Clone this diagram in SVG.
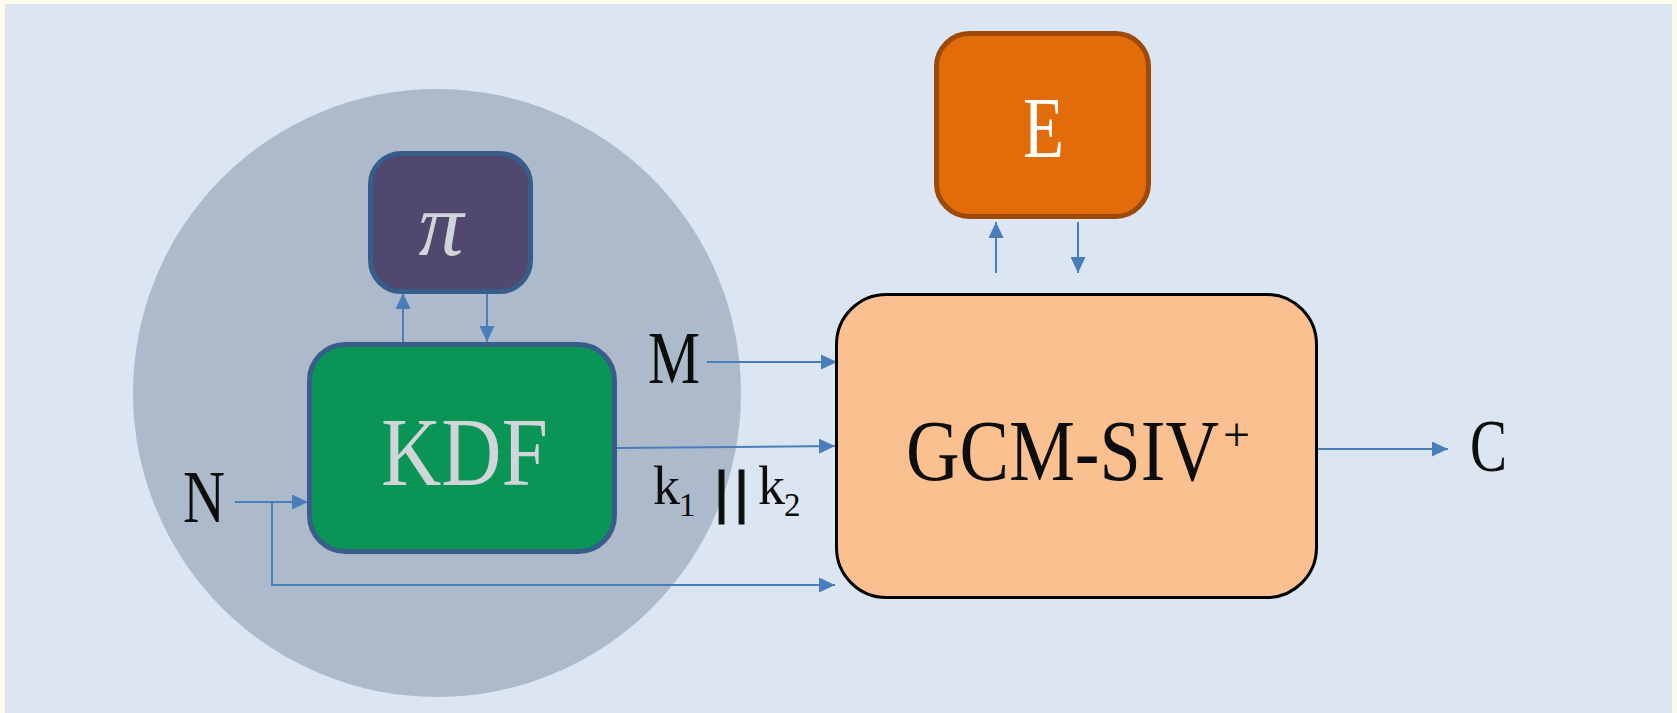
<svg xmlns="http://www.w3.org/2000/svg" width="1677" height="713" viewBox="0 0 1677 713">
  <style>
    .conn { stroke: #4a7ebb; stroke-width: 2; fill: none; marker-end: url(#arrow); }
    .lbl { font-family: "Liberation Serif", "Times New Roman", serif; fill: #0d0d0d; }
    .lt { font-family: "Liberation Serif", "Times New Roman", serif; fill: #d0d5da; }
    .bar { font-family: "Liberation Sans", Arial, sans-serif; font-size: 58px; fill: #0d0d0d; stroke: #0d0d0d; stroke-width: 1.2; }
  </style>
  <defs>
    <marker id="arrow" markerUnits="userSpaceOnUse" markerWidth="16" markerHeight="15" refX="16" refY="7.5" orient="auto">
      <path d="M0,0 L16,7.5 L0,15 z" fill="#4a7ebb"/>
    </marker>
  </defs>
  <rect x="0" y="0" width="1677" height="713" fill="#fdfbea"/>
  <rect x="5" y="4" width="1667" height="709" fill="#dce6f2"/>
  <circle id="scope" cx="437" cy="393" r="304" fill="#adbacb"/>

  <g id="connectors">
    <line class="conn" x1="403" y1="342" x2="403" y2="293"/>
    <line class="conn" x1="487" y1="294" x2="487" y2="342"/>
    <line class="conn" x1="996" y1="273" x2="996" y2="222"/>
    <line class="conn" x1="1078" y1="222" x2="1078" y2="273"/>
    <line class="conn" x1="707" y1="362" x2="837" y2="362"/>
    <line class="conn" x1="617" y1="448" x2="835" y2="446"/>
    <line class="conn" x1="235" y1="502" x2="308" y2="502"/>
    <polyline class="conn" points="272,502 272,585 835,585"/>
    <line class="conn" x1="1318" y1="449" x2="1448" y2="449"/>
  </g>

  <g id="pi">
    <rect x="370.5" y="153.5" width="160" height="138" rx="31" fill="#50486f" stroke="#385d8a" stroke-width="5"/>
    <text class="lt" x="441" y="255" font-size="90" font-style="italic" text-anchor="middle">π</text>
  </g>

  <g id="kdf">
    <rect x="309.5" y="344.5" width="305" height="207" rx="36" fill="#0a9455" stroke="#385d8a" stroke-width="5"/>
    <text class="lt" x="381" y="485" font-size="98" textLength="167" lengthAdjust="spacingAndGlyphs">KDF</text>
  </g>

  <g id="E">
    <rect x="936.5" y="33.5" width="212" height="183" rx="33" fill="#e36c0a" stroke="#9c4a06" stroke-width="5"/>
    <text x="1023" y="157" font-size="87" fill="#ffffff" font-family="Liberation Serif, Times New Roman, serif" textLength="41" lengthAdjust="spacingAndGlyphs">E</text>
  </g>

  <g id="gcm">
    <rect x="836.5" y="294.5" width="480" height="303" rx="50" fill="#fac090" stroke="#000000" stroke-width="3"/>
    <text class="lbl" font-size="86" transform="translate(906,480) scale(0.862,1)" x="0" y="0">GCM-SIV</text>
    <text class="lbl" x="1223" y="451" font-size="48">+</text>
  </g>

  <g id="labels">
    <text class="lbl" x="648" y="383" font-size="75" textLength="52" lengthAdjust="spacingAndGlyphs">M</text>
    <text class="lbl" x="183" y="522" font-size="75" textLength="42" lengthAdjust="spacingAndGlyphs">N</text>
    <text class="lbl" x="1470" y="471" font-size="75" textLength="37" lengthAdjust="spacingAndGlyphs">C</text>
    <text class="lbl" font-size="54"><tspan x="653" y="504">k</tspan><tspan x="679" y="516" font-size="33">1</tspan><tspan class="bar" x="714" y="512">|</tspan><tspan class="bar" x="734" y="512">|</tspan><tspan x="758" y="504">k</tspan><tspan x="784" y="516" font-size="33">2</tspan></text>
  </g>
</svg>
